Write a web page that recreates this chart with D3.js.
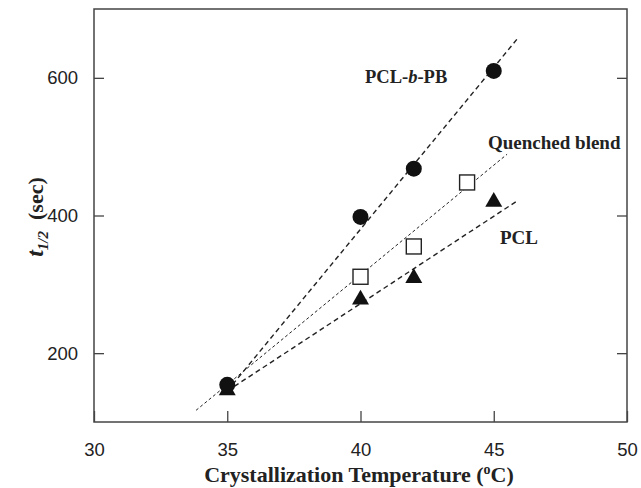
<!DOCTYPE html>
<html><head><meta charset="utf-8">
<script src="https://cdn.jsdelivr.net/npm/d3@7"></script>
<style>body{margin:0;background:#fff}</style>
</head><body>
<svg id="c" width="641" height="488"></svg>
<script>
const xTicks = [30, 35, 40, 45, 50];
const yTicks = [200, 400, 600];
const blockTemps = [35, 40, 42, 45];
const blockValues = [154, 398, 468, 610];
const blendTemps = [40, 42, 44];
const blendValues = [311, 355, 448];
const pclTemps = [35, 40, 42, 45];
const pclValues = [146, 278, 309, 420];
const blockFit = [[35, 145], [45.87, 656]];
const blendFit = [[33.83, 117], [45.5, 489]];
const pclFit = [[35, 145], [45.87, 421]];
const labels = ["PCL-b-PB", "Quenched blend", "PCL"];

const svg = d3.select("#c");
const x = d3.scaleLinear().domain([30, 50]).range([94, 627]);
const y = d3.scaleLinear().domain([100, 700]).range([422, 9]);
const serif = "'Liberation Serif','Times New Roman',serif";
const sans = "'Liberation Sans',Arial,sans-serif";

// frame
svg.append("rect").attr("x", x(30)).attr("y", y(700)).attr("width", x(50)-x(30)).attr("height", y(100)-y(700))
  .attr("fill", "none").attr("stroke", "#444").attr("stroke-width", 1.5);

// axes
const gx = svg.append("g").attr("transform", `translate(0,${y(100)})`)
  .call(d3.axisBottom(x).tickValues(xTicks).tickSize(-11).tickPadding(21).tickFormat(d3.format("d")));
const gy = svg.append("g").attr("transform", `translate(${x(30)},0)`)
  .call(d3.axisLeft(y).tickValues(yTicks).tickSize(-10).tickPadding(16).tickFormat(d3.format("d")));
const gr = svg.append("g").attr("transform", `translate(${x(50)},0)`)
  .call(d3.axisRight(y).tickValues(yTicks).tickSize(-10).tickFormat(""));
[gx, gy, gr].forEach(g => {
  g.select(".domain").remove();
  g.selectAll(".tick line").attr("stroke", "#444").attr("stroke-width", 1.3);
  g.selectAll("text").attr("font-family", sans).attr("font-size", 18.5).attr("fill", "#222");
});

// fit lines
const line = d3.line().x(d => x(d[0])).y(d => y(d[1]));
svg.append("path").attr("d", line(blockFit)).attr("fill", "none").attr("stroke", "#222").attr("stroke-width", 1.4).attr("stroke-dasharray", "5,3.5");
svg.append("path").attr("d", line(blendFit)).attr("fill", "none").attr("stroke", "#222").attr("stroke-width", 1).attr("stroke-dasharray", "3,2.5");
svg.append("path").attr("d", line(pclFit)).attr("fill", "none").attr("stroke", "#222").attr("stroke-width", 1.4).attr("stroke-dasharray", "5,3.5");

// markers
const blend = blendTemps.map((t, i) => [t, blendValues[i]]);
svg.selectAll(".sq").data(blend).join("rect").attr("class", "sq")
  .attr("x", d => x(d[0]) - 7.5).attr("y", d => y(d[1]) - 7.5).attr("width", 15).attr("height", 15)
  .attr("fill", "#fff").attr("stroke", "#222").attr("stroke-width", 1.4);
const pcl = pclTemps.map((t, i) => [t, pclValues[i]]);
const tri = d3.symbol().type(d3.symbolTriangle).size(125);
svg.selectAll(".tri").data(pcl).join("path").attr("class", "tri")
  .attr("d", tri).attr("transform", d => `translate(${x(d[0])},${y(d[1])})`).attr("fill", "#111");
const block = blockTemps.map((t, i) => [t, blockValues[i]]);
svg.selectAll(".circ").data(block).join("circle").attr("class", "circ")
  .attr("cx", d => x(d[0])).attr("cy", d => y(d[1])).attr("r", 8).attr("fill", "#111");

// series labels
const t1 = svg.append("text").attr("x", 365).attr("y", 83).attr("font-family", serif).attr("font-weight", "bold").attr("font-size", 18.5).attr("fill", "#222");
t1.append("tspan").text("PCL-");
t1.append("tspan").attr("font-style", "italic").text("b");
t1.append("tspan").text("-PB");
svg.append("text").attr("x", 488).attr("y", 149).attr("font-family", serif).attr("font-weight", "bold").attr("font-size", 19).attr("fill", "#222").text(labels[1]);
svg.append("text").attr("x", 500).attr("y", 244).attr("font-family", serif).attr("font-weight", "bold").attr("font-size", 19).attr("fill", "#222").text(labels[2]);

// axis titles
const xt = svg.append("text").attr("x", 359).attr("y", 482).attr("text-anchor", "middle").attr("font-family", serif).attr("font-weight", "bold").attr("font-size", 22).attr("fill", "#222");
xt.append("tspan").text("Crystallization Temperature (");
xt.append("tspan").attr("font-size", 14).attr("dy", -8).text("o");
xt.append("tspan").attr("dy", 8).text("C)");

const yt = svg.append("text").attr("transform", "translate(43,217) rotate(-90)").attr("text-anchor", "middle").attr("font-family", serif).attr("font-weight", "bold").attr("font-size", 22).attr("fill", "#222");
yt.append("tspan").attr("font-style", "italic").attr("font-size", 24).text("t");
yt.append("tspan").attr("font-style", "italic").attr("font-size", 15).attr("dy", 5).text("1/2");
yt.append("tspan").attr("dy", -5).text("\u00a0\u00a0(sec)");
</script>
</body></html>
